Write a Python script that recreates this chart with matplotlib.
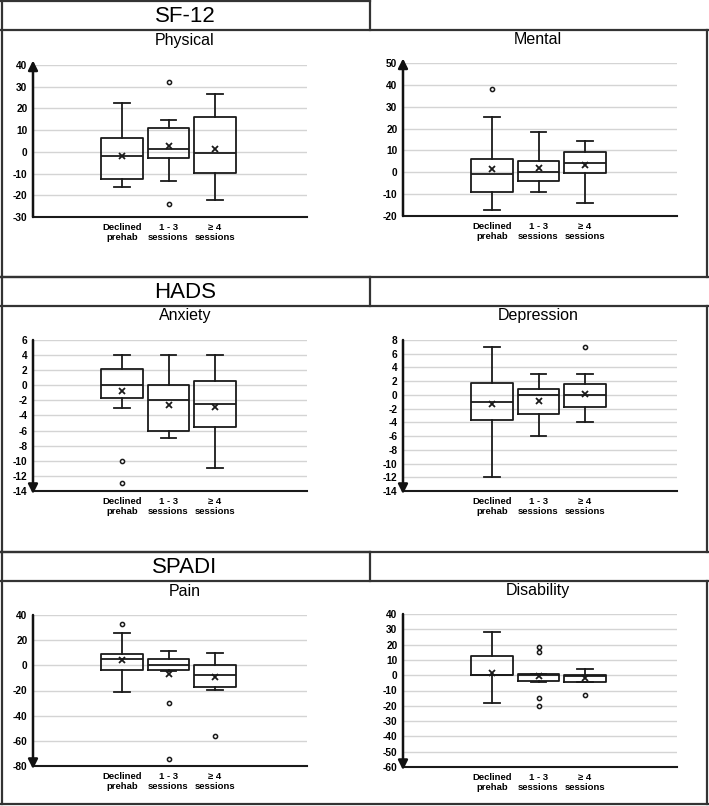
import numpy as np
import matplotlib.pyplot as plt
from matplotlib.lines import Line2D

plt.rcParams['font.family'] = ['Liberation Sans', 'DejaVu Sans']
plt.rcParams['axes.unicode_minus'] = False

groups = ['Declined\nprehab', '1 - 3\nsessions', '≥ 4\nsessions']

# each box: [whisker low, Q1, median, Q3, whisker high]
phys_box = [[-16.3, -12.3, -1.8, 6.3, 22.3], [-13.4, -2.9, 1.5, 10.9, 14.8], [-22.3, -9.7, -0.6, 16.1, 26.8]]
phys_mean = [-1.8, 2.7, 1.2]
phys_out = [[], [32.3, -24.0], []]

ment_box = [[-17.1, -8.9, -0.6, 6.1, 25.4], [-8.9, -4.0, 0.3, 5.0, 18.3], [-13.9, -0.5, 4.3, 9.5, 14.5]]
ment_mean = [1.5, 2.0, 3.2]
ment_out = [[38.1], [], []]

anx_box = [[-3.0, -1.7, 0.0, 2.1, 4.0], [-7.0, -6.0, -2.0, 0.0, 4.0], [-11.0, -5.5, -2.5, 0.6, 4.0]]
anx_mean = [-0.75, -2.6, -2.9]
anx_out = [[-10.0, -13.0], [], []]

dep_box = [[-12.0, -3.7, -1.0, 1.75, 7.0], [-6.0, -2.8, 0.0, 0.8, 3.0], [-4.0, -1.8, 0.0, 1.55, 3.0]]
dep_mean = [-1.3, -0.9, 0.1]
dep_out = [[], [], [7.0]]

pain_box = [[-20.9, -3.7, 5.0, 9.0, 25.4], [-4.5, -3.7, 0.3, 4.8, 11.1], [-19.9, -17.2, -7.4, 0.5, 10.1]]
pain_mean = [4.0, -6.9, -9.3]
pain_out = [[32.6], [-30.0, -74.4], [-56.2]]

dis_box = [[-18.0, 0.0, 0.2, 12.3, 28.0], [-4.6, -3.7, 0.0, 0.7, 1.1], [-4.6, -4.6, -0.5, 0.2, 4.2]]
dis_mean = [1.75, -0.6, -1.75]
dis_out = [[], [18.2, 15.1, -15.1, -19.9], [-12.9]]

W, H = 709, 806
fig = plt.figure(figsize=(W / 100, H / 100), dpi=100)


def fx(px):
    return px / W


def fy(py):
    return 1 - py / H


def hline(x0, x1, y):
    fig.add_artist(Line2D([fx(x0), fx(x1)], [fy(y), fy(y)], color='#333333', lw=1.6))


def vline(x, y0, y1):
    fig.add_artist(Line2D([fx(x), fx(x)], [fy(y0), fy(y1)], color='#333333', lw=1.6))


# frames: header cell + panel box for each section
sections = [('SF-12', 1, 30, 277), ('HADS', 277, 306, 552), ('SPADI', 552, 581, 804)]
for name, top, mid, bot in sections:
    hline(1, 370, top)
    vline(1.5, top, bot)
    vline(370, top, mid)
    hline(1, 708, mid)
    hline(1, 708, bot)
    vline(707, mid, bot)
    fig.text(fx(185), fy((top + mid) / 2 + 1), name, ha='center', va='center', fontsize=16)

panels = [
    ('Physical', phys_box, phys_mean, phys_out, (-30, 40, 10), 'up', 33, 65, 217),
    ('Mental', ment_box, ment_mean, ment_out, (-20, 50, 10), 'up', 403, 63, 216),
    ('Anxiety', anx_box, anx_mean, anx_out, (-14, 6, 2), 'down', 33, 340, 491),
    ('Depression', dep_box, dep_mean, dep_out, (-14, 8, 2), 'down', 403, 340, 491),
    ('Pain', pain_box, pain_mean, pain_out, (-80, 40, 20), 'down', 33, 615, 766),
    ('Disability', dis_box, dis_mean, dis_out, (-60, 40, 10), 'down', 403, 614, 767),
]

for title, boxes, means, outs, (lo, hi, step), arrow, left, top, bot in panels:
    ax = fig.add_axes([fx(left), fy(bot), 274 / W, (bot - top) / H])
    stats = []
    for b, m, o, g in zip(boxes, means, outs, groups):
        stats.append(dict(whislo=b[0], q1=b[1], med=b[2], q3=b[3], whishi=b[4],
                          mean=m, fliers=o, label=g))
    ax.bxp(stats, positions=[1, 2, 3], widths=0.9, showmeans=True, capwidths=0.33,
           boxprops=dict(color='#1a1a1a', lw=1.3),
           medianprops=dict(color='#1a1a1a', lw=1.3),
           whiskerprops=dict(color='#1a1a1a', lw=1.3),
           capprops=dict(color='#1a1a1a', lw=1.3),
           meanprops=dict(marker='x', markeredgecolor='#1a1a1a', markersize=5, markeredgewidth=1.3),
           flierprops=dict(marker='o', markersize=3, markerfacecolor='white',
                           markeredgecolor='#1a1a1a', markeredgewidth=1.1))
    ax.set_xlim(1 - 89 / 46.5, 1 + 185 / 46.5)
    ax.set_ylim(lo, hi)
    ax.set_yticks(np.arange(lo, hi + step / 2, step))
    ax.yaxis.grid(True, color='#d4d4d4', lw=1)
    ax.set_axisbelow(True)
    ax.tick_params(length=0, pad=4)
    for lab in ax.get_yticklabels():
        lab.set_fontsize(7.3)
        lab.set_fontweight('bold')
    for lab in ax.get_xticklabels():
        lab.set_fontsize(6.8)
        lab.set_fontweight('bold')
        lab.set_linespacing(1.25)
    for s in ['top', 'right', 'left']:
        ax.spines[s].set_visible(False)
    ax.spines['bottom'].set_linewidth(1.5)
    ax.spines['bottom'].set_color('#1a1a1a')
    if arrow == 'up':
        tip, tail = (0, 1.03), (0, 0)
    else:
        tip, tail = (0, -0.02), (0, 1)
    ax.annotate('', xy=tip, xytext=tail, xycoords='axes fraction',
                arrowprops=dict(arrowstyle='-|>', color='#111111', lw=1.8, mutation_scale=14,
                                shrinkA=0, shrinkB=0), annotation_clip=False)
    cx = 185 if left < 300 else 538
    fig.text(fx(cx), fy(top - 24), title, ha='center', va='center', fontsize=11.5)

fig.savefig('out.png', dpi=100)
